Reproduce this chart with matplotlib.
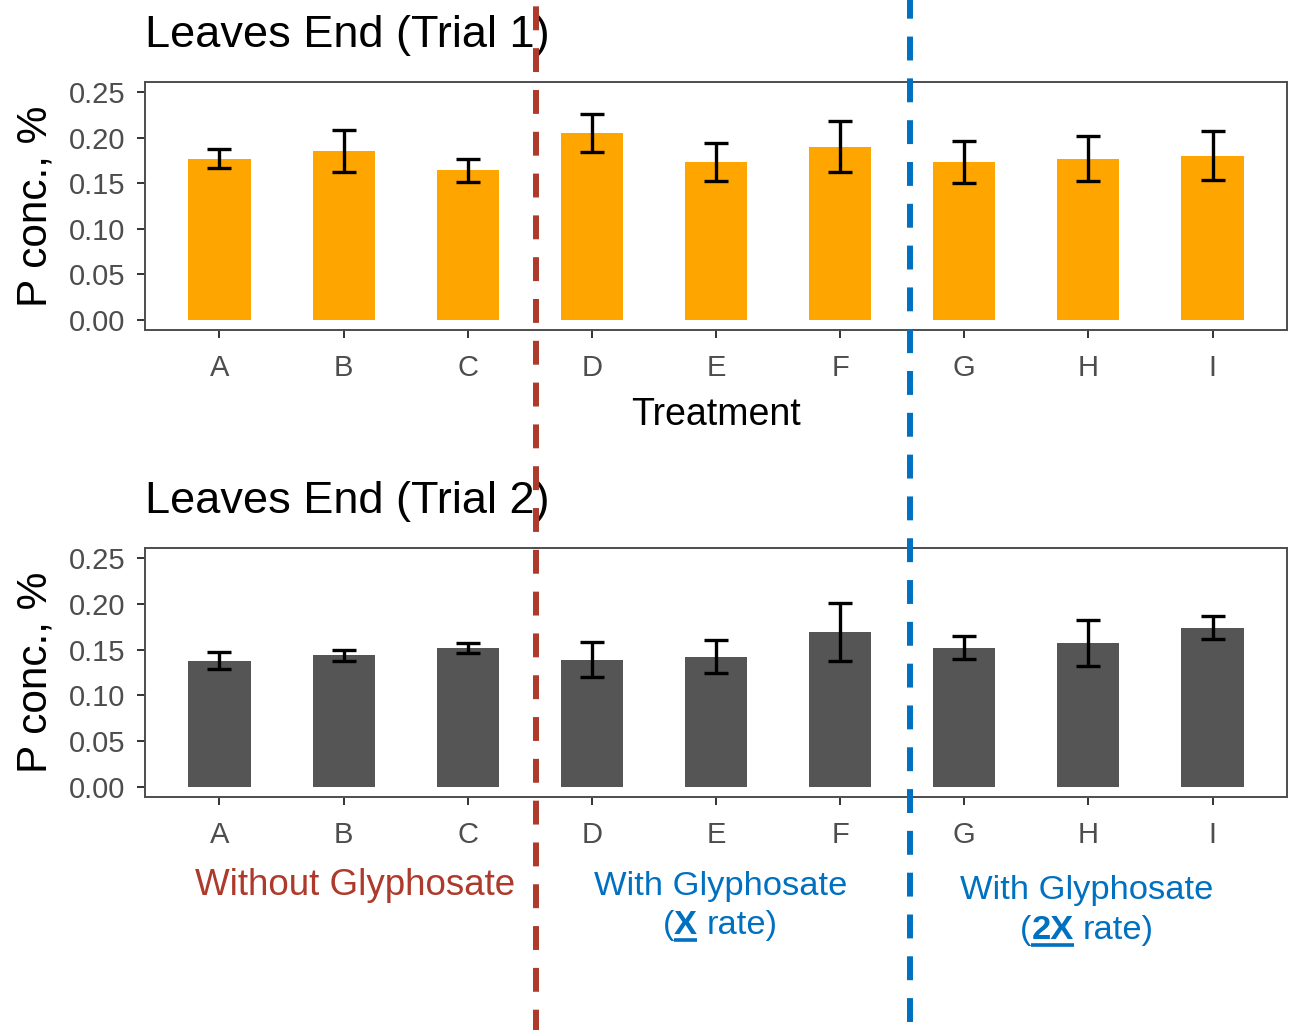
"""
Leaf P concentration at the end of two trials, by treatment,
with the glyphosate groups split by dashed guide lines.
"""

import matplotlib
matplotlib.use("Agg")
import matplotlib.pyplot as plt
from matplotlib.lines import Line2D

plt.rcParams["font.family"] = ["Liberation Sans", "DejaVu Sans"]

# ── Data ─────────────────────────────────────────────────────────────────────
treatments = ["A", "B", "C", "D", "E", "F", "G", "H", "I"]
trial1_mean = [0.177, 0.185, 0.164, 0.205, 0.173, 0.190, 0.173, 0.177, 0.180]
trial1_se = [0.010, 0.023, 0.013, 0.021, 0.021, 0.028, 0.023, 0.025, 0.027]
trial2_mean = [0.138, 0.144, 0.152, 0.139, 0.142, 0.169, 0.152, 0.157, 0.174]
trial2_se = [0.009, 0.006, 0.0055, 0.019, 0.018, 0.032, 0.0125, 0.025, 0.013]
y_ticks = [0.00, 0.05, 0.10, 0.15, 0.20, 0.25]

# ── Colours ──────────────────────────────────────────────────────────────────
C_T1 = "#FFA500"
C_T2 = "#555555"
C_RED = "#AE3A2B"
C_BLUE = "#0070C0"
C_FRAME = "#4D4D4D"

W, H, DPI = 1293, 1030, 100
fig = plt.figure(figsize=(W / DPI, H / DPI), dpi=DPI)

ax1 = fig.add_axes([145 / W, 1 - 330 / H, 1142 / W, 248 / H])
ax2 = fig.add_axes([145 / W, 1 - 797 / H, 1142 / W, 249 / H])


def draw_panel(ax, means, errs, color, title):
    x = list(range(1, len(treatments) + 1))
    ax.bar(x, means, width=0.5, color=color, zorder=2)
    ax.errorbar(x, means, yerr=errs, fmt="none", ecolor="black",
                elinewidth=2.4, capsize=8.9, capthick=2.4, zorder=3)
    ax.set_xlim(0.4, 9.6)
    ax.set_ylim(-0.0108, 0.2608)
    ax.set_xticks(x)
    ax.set_xticklabels(treatments)
    ax.set_yticks(y_ticks)
    ax.set_yticklabels([f"{v:.2f}" for v in y_ticks])
    ax.tick_params(axis="both", length=6, width=1.4, color="#333333",
                   labelcolor=C_FRAME, labelsize=21)
    ax.tick_params(axis="x", pad=11)
    ax.tick_params(axis="y", pad=8)
    for sp in ax.spines.values():
        sp.set_color(C_FRAME)
        sp.set_linewidth(1.4)
    ax.set_title(title, loc="left", fontsize=32.5, pad=25, color="black")


draw_panel(ax1, trial1_mean, trial1_se, C_T1, "Leaves End (Trial 1)")
draw_panel(ax2, trial2_mean, trial2_se, C_T2, "Leaves End (Trial 2)")
ax1.set_xlabel("Treatment", fontsize=27, labelpad=11)

# y labels placed on the figure so both line up
for yc in ((82 + 330) / 2, (548 + 797) / 2):
    fig.text(36 / W, 1 - yc / H, "P conc., %", rotation=90, fontsize=30.5,
             ha="center", va="center")

# ── Group labels under the bottom panel ──────────────────────────────────────
fig.canvas.draw()
renderer = fig.canvas.get_renderer()


def rich_line(xc, base_y, runs, color, size):
    """Centre a line of (text, bold) runs at xc; bold runs get underlined."""
    space = 0.278 * size * DPI / 72
    items = []
    total = 0.0
    for s, bold in runs:
        if s == " ":
            items.append((None, space, bold))
            total += space
            continue
        t = fig.text(0, 1 - base_y / H, s, fontsize=size, color=color,
                     fontweight="bold" if bold else "normal",
                     ha="left", va="baseline")
        w = t.get_window_extent(renderer).width
        items.append((t, w, bold))
        total += w
    x = xc - total / 2
    for t, w, bold in items:
        if t is not None:
            t.set_x(x / W)
            if bold:
                uy = 1 - (base_y + 6) / H
                fig.add_artist(Line2D([x / W, (x + w) / W], [uy, uy],
                                      color=color, lw=2.6,
                                      solid_capstyle="butt"))
        x += w


BLUE_SIZE = 24.8
fig.text(355 / W, 1 - 895 / H, "Without Glyphosate", fontsize=26.5,
         color=C_RED, ha="center", va="baseline")
fig.text(721 / W, 1 - 895 / H, "With Glyphosate", fontsize=BLUE_SIZE,
         color=C_BLUE, ha="center", va="baseline")
rich_line(720, 934, [("(", False), ("X", True), (" ", False),
                     ("rate)", False)], C_BLUE, BLUE_SIZE)
fig.text(1087 / W, 1 - 899 / H, "With Glyphosate", fontsize=BLUE_SIZE,
         color=C_BLUE, ha="center", va="baseline")
rich_line(1087, 939, [("(", False), ("2X", True), (" ", False),
                      ("rate)", False)], C_BLUE, BLUE_SIZE)

# ── Dashed dividers across the whole figure ──────────────────────────────────
fig.add_artist(Line2D([536 / W, 536 / W], [0, 1], color=C_RED, lw=4.3,
                      linestyle=(0.6, (4.0, 3.0)), zorder=10))
fig.add_artist(Line2D([910 / W, 910 / W], [8 / H, 1], color=C_BLUE, lw=4.3,
                      linestyle=(0.0, (4.0, 3.0)), zorder=10))

fig.savefig("out.png", dpi=DPI)
